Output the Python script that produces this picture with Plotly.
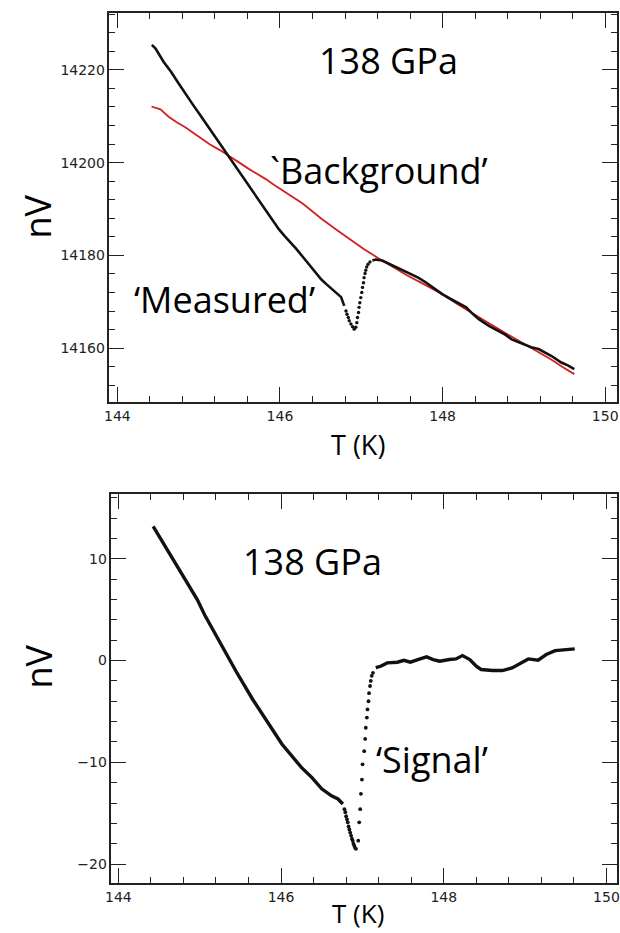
import plotly.graph_objects as go

# ---- 138 GPa: measured voltage and fitted background (nV vs K) ----
meas_T_lo = [144.424, 144.47, 144.57, 144.66, 144.752, 144.84, 144.933, 145.02, 145.115, 145.21,
             145.297, 145.39, 145.479, 145.57, 145.661, 145.75, 145.842, 145.92, 145.988, 146.05,
             146.109, 146.206, 146.28, 146.352, 146.43, 146.509, 146.57, 146.63, 146.69, 146.752,
             146.79]
meas_V_lo = [14225.4, 14224.6, 14221.7, 14219.6, 14217.1, 14214.7, 14212.4, 14210.2, 14207.8, 14205.4,
             14203.1, 14200.8, 14198.5, 14196.1, 14193.9, 14191.6, 14189.2, 14187.3, 14185.6, 14184.3,
             14183.2, 14181.3, 14179.7, 14178.1, 14176.5, 14174.8, 14173.8, 14172.9, 14172.1, 14171.0,
             14169.1]

dip_T = [146.812, 146.824, 146.840, 146.852, 146.873, 146.893, 146.913, 146.933, 146.945, 146.953,
         146.966, 146.973, 146.982, 146.994, 147.006, 147.015, 147.027, 147.034, 147.046, 147.055,
         147.067, 147.083, 147.107]
dip_V = [14168.0, 14167.3, 14166.6, 14165.9, 14165.2, 14164.6, 14164.1, 14164.5, 14165.5, 14166.6,
         14167.7, 14168.8, 14169.8, 14170.9, 14172.0, 14173.1, 14174.1, 14175.2, 14176.1, 14176.8,
         14177.5, 14178.1, 14178.6]

meas_T_hi = [147.136, 147.176, 147.257, 147.317, 147.40, 147.48, 147.60, 147.70, 147.80, 147.90,
             148.00, 148.10, 148.21, 148.29, 148.37, 148.45, 148.57, 148.69, 148.77, 148.85,
             148.97, 149.09, 149.18, 149.26, 149.34, 149.46, 149.54, 149.62]
meas_V_hi = [14178.9, 14179.1, 14178.9, 14178.4, 14177.7, 14177.0, 14175.9, 14175.2, 14174.1, 14172.9,
             14171.6, 14170.6, 14169.5, 14168.8, 14167.4, 14166.2, 14164.8, 14163.7, 14162.9, 14161.9,
             14161.0, 14160.2, 14159.8, 14159.1, 14158.3, 14156.9, 14156.3, 14155.5]

bg_T = [144.42, 144.53, 144.63, 144.73, 144.83, 144.93, 145.03, 145.14, 145.26, 145.38,
        145.50, 145.62, 145.72, 145.82, 145.92, 146.02, 146.14, 146.27, 146.37, 146.47,
        146.51, 146.69, 146.87, 147.03, 147.20, 147.38, 147.56, 147.78, 148.00, 148.18,
        148.37, 148.53, 148.69, 148.85, 149.01, 149.17, 149.34, 149.48, 149.62]
bg_V = [14212.1, 14211.5, 14209.9, 14208.7, 14207.7, 14206.5, 14205.2, 14203.9, 14202.7, 14201.4,
        14200.0, 14198.6, 14197.6, 14196.5, 14195.3, 14194.2, 14192.8, 14191.3, 14189.9, 14188.5,
        14187.9, 14185.6, 14183.3, 14181.4, 14179.5, 14177.6, 14175.7, 14173.7, 14171.6, 14169.5,
        14167.4, 14165.8, 14164.1, 14162.5, 14160.9, 14159.3, 14157.5, 14155.9, 14154.4]

# ---- 138 GPa: signal = measured - background (nV vs K) ----
sig_T_lo = [144.428, 144.558, 144.679, 144.84, 144.97, 145.06, 145.17, 145.28, 145.45, 145.65,
            145.85, 146.01, 146.25, 146.38, 146.50, 146.62, 146.70, 146.76]
sig_V_lo = [13.2, 11.5, 9.9, 7.8, 6.0, 4.5, 2.9, 1.4, -1.1, -3.8,
            -6.3, -8.2, -10.5, -11.5, -12.6, -13.3, -13.6, -14.1]

sig_dip_T = [146.779, 146.79, 146.80, 146.81, 146.82, 146.83, 146.84, 146.85, 146.861, 146.871,
             146.881, 146.89, 146.90, 146.91, 146.921, 146.949, 146.961, 146.973, 146.982, 146.994,
             147.002, 147.022, 147.034, 147.042, 147.055, 147.063, 147.075, 147.082, 147.094, 147.103,
             147.115, 147.13]
sig_dip_V = [-14.6, -14.9, -15.3, -15.6, -15.9, -16.3, -16.6, -16.9, -17.2, -17.5,
             -17.7, -18.0, -18.2, -18.4, -18.5, -17.7, -15.9, -14.6, -13.1, -11.7,
             -10.2, -8.9, -7.7, -6.6, -5.6, -4.8, -4.0, -3.2, -2.5, -2.0,
             -1.5, -1.2]

sig_T_hi = [147.164, 147.224, 147.305, 147.43, 147.51, 147.59, 147.71, 147.79, 147.87, 147.95,
            148.07, 148.15, 148.23, 148.32, 148.40, 148.46, 148.60, 148.72, 148.84, 148.92,
            149.04, 149.16, 149.26, 149.37, 149.49, 149.61]
sig_V_hi = [-0.7, -0.56, -0.23, -0.16, 0.03, -0.16, 0.16, 0.36, 0.1, -0.06,
            0.1, 0.16, 0.49, 0.1, -0.56, -0.88, -0.98, -0.98, -0.72, -0.39,
            0.16, 0.03, 0.59, 0.98, 1.05, 1.15]

W, H = 620, 933
INK = "#111111"
RED = "#d42020"
LABEL_FONT = "'Open Sans', 'Noto Sans', sans-serif"
TICK_FONT = "'DejaVu Sans', Verdana, sans-serif"


def px(x):
    return x / W


def py(y):
    return 1 - y / H


fig = go.Figure()

# top panel
fig.add_trace(go.Scatter(x=bg_T, y=bg_V, mode="lines", line=dict(color=RED, width=1.8),
                         xaxis="x", yaxis="y", showlegend=False))
fig.add_trace(go.Scatter(x=meas_T_lo, y=meas_V_lo, mode="lines", line=dict(color=INK, width=2.6),
                         xaxis="x", yaxis="y", showlegend=False))
fig.add_trace(go.Scatter(x=dip_T, y=dip_V, mode="markers", marker=dict(color=INK, size=3.4),
                         xaxis="x", yaxis="y", showlegend=False))
fig.add_trace(go.Scatter(x=meas_T_hi, y=meas_V_hi, mode="lines", line=dict(color=INK, width=2.6),
                         xaxis="x", yaxis="y", showlegend=False))

# bottom panel
fig.add_trace(go.Scatter(x=sig_T_lo, y=sig_V_lo, mode="lines", line=dict(color=INK, width=3.4),
                         xaxis="x2", yaxis="y2", showlegend=False))
fig.add_trace(go.Scatter(x=sig_dip_T, y=sig_dip_V, mode="markers", marker=dict(color=INK, size=3.8),
                         xaxis="x2", yaxis="y2", showlegend=False))
fig.add_trace(go.Scatter(x=sig_T_hi, y=sig_V_hi, mode="lines", line=dict(color=INK, width=3.4),
                         xaxis="x2", yaxis="y2", showlegend=False))


def axis_style(dtick, tick0, minor_dtick, rng, domain, anchor):
    return dict(
        range=rng, domain=domain, anchor=anchor,
        showline=True, linecolor="#222222", linewidth=1.5, mirror="ticks",
        ticks="inside", ticklen=15, tickwidth=1.3, tickcolor="#222222",
        dtick=dtick, tick0=tick0, tickformat="d", ticklabeloverflow="allow",
        minor=dict(dtick=minor_dtick, tick0=tick0, ticks="inside", ticklen=6,
                   tickwidth=1.2, tickcolor="#222222"),
        showgrid=False, zeroline=False,
        tickfont=dict(family=TICK_FONT, size=14, color="#222222"),
    )


fig.update_layout(
    width=W, height=H,
    margin=dict(l=0, r=0, t=0, b=0),
    paper_bgcolor="white", plot_bgcolor="white",
    xaxis=axis_style(2, 144, 0.4, [143.903, 150.145], [px(105), 1.0], "y"),
    yaxis=axis_style(20, 14160, 4, [14148.39, 14232.26], [py(402), py(13)], "x"),
    xaxis2=axis_style(2, 144, 0.4, [143.915, 150.13], [px(107), 1.0], "y2"),
    yaxis2=axis_style(10, 0, 2, [-21.86, 16.37], [py(883), py(494)], "x2"),
)

texts = [
    ("138 GPa", 388, 61, 36, 0),
    ("`Background’", 378, 171, 36, 0),
    ("‘Measured’", 222, 299, 36, 0),
    ("T (K)", 357, 444, 27, 0),
    ("nV", 32, 217, 36, -90),
    ("138 GPa", 311, 561, 36, 0),
    ("‘Signal’", 432, 759, 36, 0),
    ("T (K)", 357, 913, 26, 0),
    ("nV", 32, 667, 36, -90),
]
for txt, x, y, size, ang in texts:
    fig.add_annotation(text=txt, x=px(x), y=py(y), xref="paper", yref="paper",
                       xanchor="center", yanchor="middle", showarrow=False, textangle=ang,
                       borderpad=0,
                       font=dict(family=LABEL_FONT, size=size, color="#000000"))

fig.write_html("out.html")
